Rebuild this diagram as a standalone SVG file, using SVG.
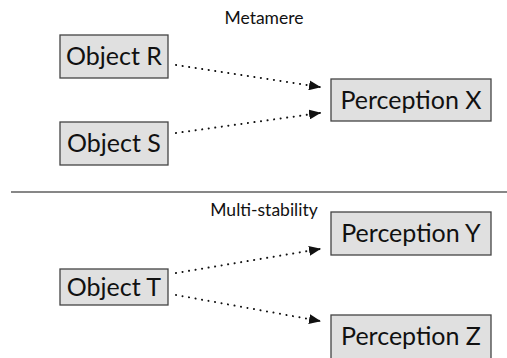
<svg xmlns="http://www.w3.org/2000/svg" width="507" height="358" viewBox="0 0 507 358">
<style>
.box{fill:#e0e0e0;stroke:#444;stroke-width:1.3}
.lbl{font-family:"Lato","Liberation Sans",sans-serif;font-size:25px;fill:#111;text-anchor:middle}
.ttl{font-family:"Lato","Liberation Sans",sans-serif;font-size:17.5px;fill:#111;text-anchor:middle}
.con{stroke:#111;stroke-width:2;stroke-dasharray:0.1 6.5;stroke-linecap:round;fill:none}
</style>
<defs>
<marker id="ah" markerWidth="12" markerHeight="10" refX="11" refY="5" orient="auto" markerUnits="userSpaceOnUse">
<path d="M0,0 L12,5 L0,10 z" fill="#111"/>
</marker>
</defs>
<rect width="507" height="358" fill="#fff"/>
<text class="ttl" x="264" y="24">Metamere</text>
<line x1="11" y1="192" x2="507" y2="192" stroke="#111" stroke-width="1.2"/>
<text class="ttl" x="264" y="216">Multi-stability</text>
<g id="objR"><rect class="box" x="60" y="35" width="108" height="43"/><text class="lbl" x="114" y="65">Object R</text></g>
<g id="objS"><rect class="box" x="60" y="122" width="108" height="43"/><text class="lbl" x="114" y="152">Object S</text></g>
<g id="percX"><rect class="box" x="331" y="79" width="160" height="42"/><text class="lbl" x="411" y="109">Perception X</text></g>
<g id="percY"><rect class="box" x="331" y="212" width="160" height="43"/><text class="lbl" x="411" y="242">Perception Y</text></g>
<g id="objT"><rect class="box" x="60" y="269" width="108" height="36"/><text class="lbl" x="114" y="296">Object T</text></g>
<g id="percZ"><rect class="box" x="331" y="315" width="160" height="44"/><text class="lbl" x="411" y="345">Perception Z</text></g>
<g id="connectors">
<path class="con" d="M176,65 L320,87" marker-end="url(#ah)"/>
<path class="con" d="M176,133 L320,113" marker-end="url(#ah)"/>
<path class="con" d="M176,273 L320,249" marker-end="url(#ah)"/>
<path class="con" d="M176,295 L320,321" marker-end="url(#ah)"/>
</g>
</svg>
